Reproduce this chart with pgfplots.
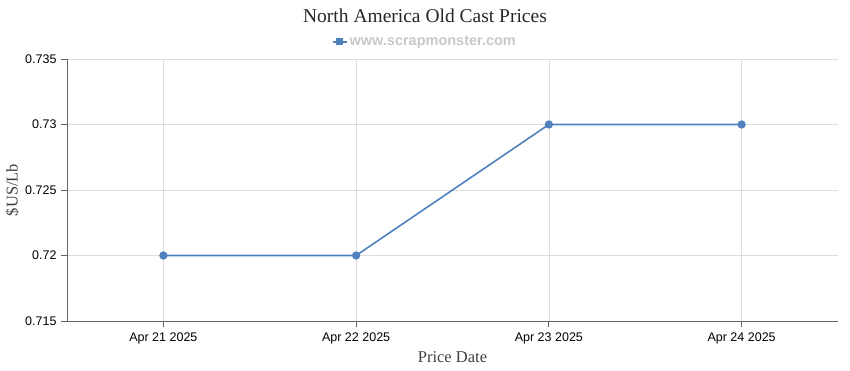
\documentclass[border=0pt]{standalone}
\usepackage{pgfplots}
\pgfplotsset{compat=1.18}
\usepackage{fontspec}
\setmainfont{Liberation Serif}
\newfontfamily\tickfont{Liberation Sans}
\definecolor{lineblue}{RGB}{79,129,189}
\definecolor{gridgray}{RGB}{221,221,221}
\definecolor{axisgray}{RGB}{100,100,100}
\definecolor{leggray}{RGB}{200,200,200}
\begin{document}
\begin{tikzpicture}[x=1pt,y=1pt]
\useasboundingbox (-67,-49) rectangle (783,321);
\begin{axis}[
  at={(0,0)}, anchor=south west,
  scale only axis, width=771pt, height=262pt,
  xmin=-0.5, xmax=3.5, ymin=0.715, ymax=0.735,
  xtick={0,1,2,3},
  xticklabels={Apr 21 2025,Apr 22 2025,Apr 23 2025,Apr 24 2025},
  ytick={0.715,0.72,0.725,0.73,0.735},
  yticklabels={0.715,0.72,0.725,0.73,0.735},
  axis x line*=bottom, axis y line*=left,
  axis line style={axisgray, line width=0.9pt, -},
  tick style={axisgray, line width=0.9pt},
  tick align=outside, major tick length=6pt,
  grid=major, grid style={gridgray, line width=0.7pt},
  ticklabel style={font=\tickfont\fontsize{12.5}{14}\selectfont, text=black},
  yticklabel style={xshift=-1pt},
  xticklabel style={yshift=-2pt},
  xlabel={Price Date}, ylabel={\$US/Lb},
  label style={font=\fontsize{16.5}{18}\selectfont, text=black!75},
  xlabel style={at={(axis description cs:0.5,0)}, anchor=north, yshift=-27pt},
  ylabel style={at={(axis description cs:-0.071,0.5)}, anchor=center},
  legend style={at={(axis description cs:0.464,1.066)}, anchor=center, draw=none, fill=none,
    font=\tickfont\bfseries\fontsize{14.5}{16}\selectfont, text=leggray,
    legend cell align=left, inner sep=0pt},
  legend image code/.code={\draw[lineblue, line width=2pt] (0pt,0pt) -- (14pt,0pt); \fill[lineblue] (4.5pt,-2.8pt) rectangle (9.5pt,2.8pt);},
  clip=false,
]
\addplot[lineblue, line width=1.6pt, mark=*, mark size=3.3pt, mark options={fill=lineblue, draw=lineblue}]
  coordinates {(0,0.72) (1,0.72) (2,0.73) (3,0.73)};
\addlegendentry{www.scrapmonster.com}
\end{axis}
\node[font=\fontsize{19.5}{22}\selectfont, text=black!85] at (358,305) {North America Old Cast Prices};
\end{tikzpicture}
\end{document}
